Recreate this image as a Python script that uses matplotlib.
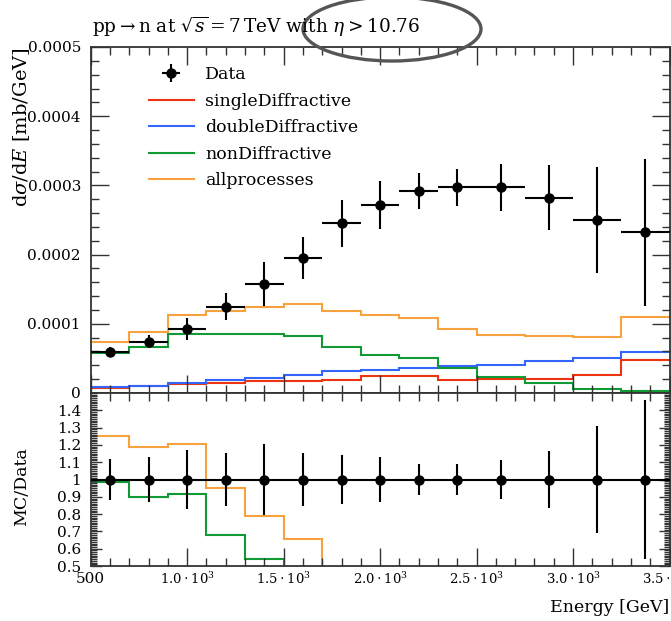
'''
Neutron energy spectrum, pp -> n at sqrt(s) = 7 TeV, eta > 10.76.
Main panel: data and MC histograms, lower panel: MC/Data ratio.
'''
import numpy as np
import matplotlib.pyplot as plt
from matplotlib.patches import Ellipse
from matplotlib.ticker import MultipleLocator, FixedLocator, FixedFormatter

plt.rcParams['font.family'] = ['DejaVu Serif']
plt.rcParams['mathtext.fontset'] = 'dejavuserif'

#
# data
#
edges = [500, 700, 900, 1100, 1300, 1500, 1700, 1900, 2100, 2300,
         2500, 2750, 3000, 3250, 3500]
data_y = [5.9e-5, 7.4e-5, 9.3e-5, 1.25e-4, 1.58e-4, 1.95e-4, 2.45e-4,
          2.72e-4, 2.92e-4, 2.97e-4, 2.97e-4, 2.82e-4, 2.50e-4, 2.32e-4]
data_err = [7.0e-6, 9.6e-6, 1.6e-5, 1.9e-5, 3.2e-5, 3.0e-5, 3.4e-5,
            3.5e-5, 2.6e-5, 2.7e-5, 3.4e-5, 4.7e-5, 7.7e-5, 1.06e-4]

single_diff = [0.67e-5, 0.96e-5, 1.25e-5, 1.45e-5, 1.69e-5, 1.78e-5, 1.93e-5,
               2.4e-5, 2.4e-5, 1.93e-5, 2.07e-5, 2.07e-5, 2.65e-5, 4.8e-5]
double_diff = [0.87e-5, 1.06e-5, 1.45e-5, 1.93e-5, 2.17e-5, 2.65e-5, 3.13e-5,
               3.37e-5, 3.6e-5, 3.9e-5, 4.1e-5, 4.6e-5, 5.06e-5, 5.9e-5]
non_diff = [5.8e-5, 6.65e-5, 8.5e-5, 8.5e-5, 8.5e-5, 8.3e-5, 6.7e-5,
            5.45e-5, 5.05e-5, 3.6e-5, 2.3e-5, 1.5e-5, 0.53e-5, 0.3e-5]
all_proc = [7.4e-5, 8.8e-5, 11.2e-5, 11.85e-5, 12.5e-5, 12.8e-5, 11.8e-5,
            11.3e-5, 10.9e-5, 9.3e-5, 8.4e-5, 8.2e-5, 8.1e-5, 11.0e-5]

mc_names = ['singleDiffractive', 'doubleDiffractive', 'nonDiffractive',
            'allprocesses']
mc_series = [single_diff, double_diff, non_diff, all_proc]
mc_colors = ['#EE3311', '#3366FF', '#119933', '#F7A23F']

xtick_vals = [500, 1000, 1500, 2000, 2500, 3000, 3500]
xtick_text = ['500', r'$1.0\cdot10^{3}$', r'$1.5\cdot10^{3}$',
              r'$2.0\cdot10^{3}$', r'$2.5\cdot10^{3}$', r'$3.0\cdot10^{3}$',
              r'$3.5\cdot10^{3}$']

edges = np.array(edges, dtype=float)
data_y = np.array(data_y)
data_err = np.array(data_err)
centers = 0.5 * (edges[1:] + edges[:-1])
halfw = 0.5 * (edges[1:] - edges[:-1])

#
# figure layout (pixel positions measured on the 671x621 original)
#
W, H = 671, 621
fig = plt.figure(figsize=(W / 100, H / 100), dpi=100)
left, right = 90.7 / W, 669.5 / W
ax = fig.add_axes([left, 1 - 393 / H, right - left, (393 - 47) / H])
rax = fig.add_axes([left, 1 - 566 / H, right - left, (566 - 393) / H])

spine_col = '#333333'
for a in (ax, rax):
    for s in a.spines.values():
        s.set_color(spine_col)
        s.set_linewidth(1.3)
    a.set_xlim(500, 3500)
    a.xaxis.set_major_locator(MultipleLocator(500))
    a.xaxis.set_minor_locator(MultipleLocator(100))
    a.tick_params(which='both', direction='in', top=True, right=True,
                  color=spine_col, labelsize=11, pad=7)
    a.tick_params(which='major', length=13, width=1.0)
    a.tick_params(which='minor', length=5.5, width=1.0)

# main panel
for vals, col, name in zip(mc_series, mc_colors, mc_names):
    ax.stairs(vals, edges, baseline=None, color=col, lw=1.5, label=name)
eb = ax.errorbar(centers, data_y, xerr=halfw, yerr=data_err, fmt='o',
                 color='black', ms=6.5, lw=1.5, capsize=0, label='Data',
                 zorder=5)
ax.set_ylim(0, 0.0005)
ax.yaxis.set_major_locator(FixedLocator([0, 1e-4, 2e-4, 3e-4, 4e-4, 5e-4]))
ax.yaxis.set_major_formatter(FixedFormatter(
    ['0', '0.0001', '0.0002', '0.0003', '0.0004', '0.0005']))
ax.yaxis.set_minor_locator(MultipleLocator(2e-5))
ax.tick_params(axis='x', labelbottom=False)

handles, labels = ax.get_legend_handles_labels()
order = [labels.index('Data')] + [labels.index(n) for n in mc_names]
ax.legend([handles[i] for i in order], [labels[i] for i in order],
          loc='upper left', bbox_to_anchor=(0.10, 0.945), frameon=False,
          fontsize=12.5, borderpad=0, borderaxespad=0, handlelength=2.6,
          handletextpad=0.65, labelspacing=0.55)

# ratio panel
for vals, col in zip(mc_series, mc_colors):
    rax.stairs(np.array(vals) / data_y, edges, baseline=None, color=col,
               lw=1.5)
rax.errorbar(centers, np.ones_like(data_y), xerr=halfw,
             yerr=data_err / data_y, fmt='o', color='black', ms=6.5, lw=1.5,
             capsize=0, zorder=5)
rax.set_ylim(0.5, 1.5)
rax.yaxis.set_major_locator(FixedLocator(
    [0.5, 0.6, 0.7, 0.8, 0.9, 1.0, 1.1, 1.2, 1.3, 1.4]))
rax.yaxis.set_major_formatter(FixedFormatter(
    ['0.5', '0.6', '0.7', '0.8', '0.9', '1', '1.1', '1.2', '1.3', '1.4']))
rax.yaxis.set_minor_locator(MultipleLocator(0.01))
rax.tick_params(axis='y', which='major', length=8)
rax.tick_params(axis='y', which='minor', length=4.5)
rax.tick_params(axis='x', top=False, pad=4)
rax.xaxis.set_major_locator(FixedLocator(xtick_vals))
rax.xaxis.set_major_formatter(FixedFormatter(xtick_text))
for lab in rax.get_xticklabels()[1:]:
    lab.set_fontsize(9.5)

# labels and title
fig.text(92 / W, 1 - 33 / H,
         r'pp$\rightarrow$n at $\sqrt{s} = 7\,$TeV with $\eta > 10.76$',
         ha='left', va='baseline', fontsize=13.3)
fig.text(22 / W, 1 - 47 / H, r'd$\sigma$/d$E$ [mb/GeV]', rotation=90,
         ha='center', va='top', fontsize=14)
fig.text(22 / W, 1 - 487 / H, 'MC/Data', rotation=90, ha='center',
         va='center', fontsize=12.5)
fig.text(669 / W, 1 - 608 / H, 'Energy [GeV]', ha='right', va='center',
         fontsize=12.5)

# hand-drawn highlight around the eta cut
fig.add_artist(Ellipse((392 / W, 1 - 29 / H), 178 / W, 64 / H,
                       transform=fig.transFigure, fill=False,
                       ec='#555555', lw=2.4))

fig.savefig('out.png', dpi=100)
